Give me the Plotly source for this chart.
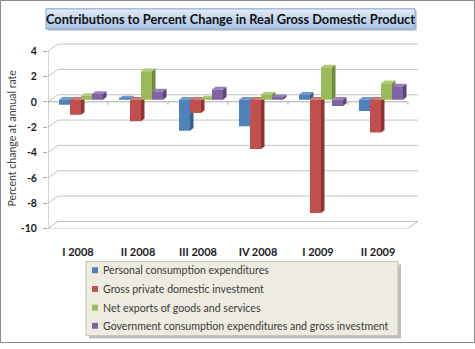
import plotly.graph_objects as go

# Contributions to percent change in real GDP (percentage points, annual rate)
categories = ["I 2008", "II 2008", "III 2008", "IV 2008", "I 2009", "II 2009"]
series_names = [
    "Personal consumption expenditures",
    "Gross private domestic investment",
    "Net exports of goods and services",
    "Government consumption expenditures and gross investment",
]
pce = [-0.4, 0.1, -2.45, -2.1, 0.4, -0.9]
gpdi = [-1.2, -1.7, -1.05, -3.9, -8.95, -2.6]
net_exports = [0.3, 2.25, 0.1, 0.4, 2.55, 1.3]
government = [0.45, 0.65, 0.8, 0.2, -0.5, 1.05]
y_ticks = [-10, -8, -6, -4, -2, 0, 2, 4]

series_values = [pce, gpdi, net_exports, government]
front_colors = ["#4F81BD", "#C0504D", "#9BBB59", "#8064A2"]
side_colors = ["#36608F", "#8E3533", "#6F8A3A", "#5B4479"]
top_colors = ["#6E97CB", "#CF716E", "#B0CB76", "#9A80B8"]

W, H = 475, 349
PX_X = 60.0      # pixels per category
PX_Y = 12.89     # pixels per percentage point

# pseudo-3D offsets (data units)
MX, MY = 3 / PX_X, 2.2 / PX_Y      # bar plane vs front plane
DX, DY = 10 / PX_X, 7.2 / PX_Y     # back wall vs front plane
SX, SY = 3.5 / PX_X, 2.7 / PX_Y    # bar depth
BW = 11 / PX_X                     # bar width

n = len(categories)
x_lo, x_hi = -0.5, n - 0.5 + DX + 0.02
y_lo, y_hi = -10, 4 + DY + 0.1

left_px, bottom_px = 48, 232.5
right_px = left_px + PX_X * (x_hi - x_lo)
top_px = bottom_px - PX_Y * (y_hi - y_lo)


def px(x):
    return x / W


def py(y):
    return (H - y) / H


fig = go.Figure()

# floor
fx = [x_lo, n - 0.5, n - 0.5 + DX, x_lo + DX, x_lo]
fy = [-10, -10, -10 + DY, -10 + DY, -10]
fig.add_trace(go.Scatter(x=fx, y=fy, mode="lines", fill="toself",
                         fillcolor="white", line=dict(color="#BFBFBF", width=1),
                         hoverinfo="skip", showlegend=False))

# back-wall gridlines with their diagonal links to the front axis
gx, gy = [], []
for v in y_ticks:
    if v == -10:
        continue
    gx += [x_lo, x_lo + DX, n - 0.5 + DX, None]
    gy += [v, v + DY, v + DY, None]
fig.add_trace(go.Scatter(x=gx, y=gy, mode="lines",
                         line=dict(color="#C3C3C3", width=1),
                         hoverinfo="skip", showlegend=False))

# front vertical axis line and category axis at zero
ax_x = [x_lo, x_lo, None, x_lo, n - 0.5, None]
ax_y = [-10, 4, None, 0, 0, None]
for i in range(n + 1):
    ax_x += [x_lo + i, x_lo + i, None]
    ax_y += [0, -3 / PX_Y, None]
fig.add_trace(go.Scatter(x=ax_x, y=ax_y, mode="lines",
                         line=dict(color="#ABABAB", width=1),
                         hoverinfo="skip", showlegend=False))

# side and top faces of the bars
for k, vals in enumerate(series_values):
    offs = (k - 1.5) * BW
    sxs, sys, txs, tys = [], [], [], []
    for i, v in enumerate(vals):
        x0 = i + offs - BW / 2 + MX
        x1 = i + offs + BW / 2 + MX
        b0, b1 = MY, MY + v
        sxs += [x1, x1 + SX, x1 + SX, x1, x1, None]
        sys += [b0, b0 + SY, b1 + SY, b1, b0, None]
        t = MY + max(0, v)
        txs += [x0, x1, x1 + SX, x0 + SX, x0, None]
        tys += [t, t, t + SY, t + SY, t, None]
    fig.add_trace(go.Scatter(x=sxs, y=sys, mode="lines", fill="toself",
                             fillcolor=side_colors[k], line=dict(width=0),
                             hoverinfo="skip", showlegend=False))
    fig.add_trace(go.Scatter(x=txs, y=tys, mode="lines", fill="toself",
                             fillcolor=top_colors[k], line=dict(width=0),
                             hoverinfo="skip", showlegend=False))

# front faces of the bars (overlay axes sit on top of the faces above)
for k, vals in enumerate(series_values):
    offs = (k - 1.5) * BW
    fig.add_trace(go.Bar(
        x=[i + offs for i in range(n)], y=vals, width=BW,
        name=series_names[k], marker=dict(color=front_colors[k], line=dict(width=0)),
        xaxis="x2", yaxis="y2", showlegend=False,
    ))

dom_x = [px(left_px), px(right_px)]
dom_y = [py(bottom_px), py(top_px)]

shapes = []
# title box with a soft vertical gradient
tb_x0, tb_x1, tb_y0, tb_y1 = 46, 415, 9, 29.5
shapes.append(dict(type="rect", xref="paper", yref="paper",
                   x0=px(tb_x0 + 2), x1=px(tb_x1 + 2), y0=py(tb_y1 + 2), y1=py(tb_y0 + 2),
                   fillcolor="rgba(120,120,120,0.35)", line=dict(width=0), layer="below"))
steps = 12
c_top, c_bot = (226, 235, 248), (168, 195, 232)
for s in range(steps):
    f = s / (steps - 1)
    c = tuple(round(a + (b - a) * f) for a, b in zip(c_top, c_bot))
    ya = tb_y0 + (tb_y1 - tb_y0) * s / steps
    yb = tb_y0 + (tb_y1 - tb_y0) * (s + 1) / steps
    shapes.append(dict(type="rect", xref="paper", yref="paper",
                       x0=px(tb_x0), x1=px(tb_x1), y0=py(yb), y1=py(ya),
                       fillcolor="rgb(%d,%d,%d)" % c, line=dict(width=0), layer="below"))
shapes.append(dict(type="rect", xref="paper", yref="paper",
                   x0=px(tb_x0), x1=px(tb_x1), y0=py(tb_y1), y1=py(tb_y0),
                   fillcolor="rgba(0,0,0,0)", line=dict(color="#7E9FCB", width=1)))

# legend panel
lg_x0, lg_x1, lg_y0, lg_y1 = 86, 398, 266, 341.5
shapes.append(dict(type="rect", xref="paper", yref="paper",
                   x0=px(lg_x0 + 3), x1=px(lg_x1 + 3), y0=py(lg_y1 + 3), y1=py(lg_y0 + 3),
                   fillcolor="rgba(110,110,110,0.45)", line=dict(width=0)))
shapes.append(dict(type="rect", xref="paper", yref="paper",
                   x0=px(lg_x0), x1=px(lg_x1), y0=py(lg_y1), y1=py(lg_y0),
                   fillcolor="#EEECE1", line=dict(color="#C4C2B8", width=1)))
rows = [275, 294, 313, 331.5]
annotations = []
for k, name in enumerate(series_names):
    r = rows[k]
    shapes.append(dict(type="rect", xref="paper", yref="paper",
                       x0=px(92), x1=px(98), y0=py(r + 3), y1=py(r - 3),
                       fillcolor=front_colors[k], line=dict(width=0)))
    annotations.append(dict(text=name, xref="paper", yref="paper", x=px(101), y=py(r),
                            xanchor="left", yanchor="middle", showarrow=False,
                            font=dict(family="Lato", size=10.6, color="#3A3A3A")))

# outer frame
shapes.append(dict(type="rect", xref="paper", yref="paper",
                   x0=px(0.5), x1=px(W - 0.5), y0=py(H - 0.5), y1=py(0.5),
                   fillcolor="rgba(0,0,0,0)", line=dict(color="#8A8A8A", width=1)))

annotations.append(dict(text="<b>Contributions to Percent Change in Real Gross Domestic Product</b>",
                        xref="paper", yref="paper", x=px((tb_x0 + tb_x1) / 2), y=py((tb_y0 + tb_y1) / 2),
                        xanchor="center", yanchor="middle", showarrow=False,
                        font=dict(family="Lato", size=12.8, color="#111111")))
annotations.append(dict(text="Percent change at annual rate", xref="paper", yref="paper",
                        x=px(12), y=py(141), textangle=-90, xanchor="center", yanchor="middle",
                        showarrow=False, font=dict(family="Lato", size=10.5, color="#404040")))

fig.update_layout(
    width=W, height=H,
    margin=dict(l=0, r=0, t=0, b=0),
    paper_bgcolor="white", plot_bgcolor="rgba(0,0,0,0)",
    barmode="overlay",
    showlegend=False,
    xaxis=dict(domain=dom_x, range=[x_lo, x_hi], tickmode="array",
               tickvals=list(range(n)), ticktext=["<b>%s</b>" % c for c in categories],
               ticks="outside", ticklen=13, tickcolor="rgba(0,0,0,0)",
               showgrid=False, zeroline=False, showline=False, fixedrange=True,
               tickfont=dict(family="Lato", size=11, color="#1A1A1A")),
    yaxis=dict(domain=dom_y, range=[y_lo, y_hi], tickmode="array",
               tickvals=y_ticks, ticktext=["<b>%d</b>" % v for v in y_ticks],
               ticks="outside", ticklen=4, tickcolor="#ABABAB", ticklabelstandoff=4,
               showgrid=False, zeroline=False, showline=False, fixedrange=True,
               tickfont=dict(family="Lato", size=10.5, color="#1A1A1A")),
    xaxis2=dict(overlaying="x", anchor="y2", range=[x_lo - MX, x_hi - MX], visible=False),
    yaxis2=dict(overlaying="y", anchor="x2", range=[y_lo - MY, y_hi - MY], visible=False),
    shapes=shapes,
    annotations=annotations,
)

fig.write_html("out.html")
